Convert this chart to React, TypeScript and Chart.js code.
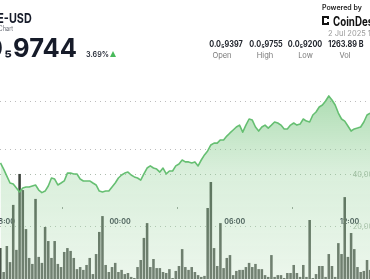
import React, { useEffect, useRef } from 'react';
import { Chart, registerables } from 'chart.js';

Chart.register(...registerables);

// ---------- data ----------
const PAIR = 'PEPE-USD';
const SUBTITLE = 'Price Chart';
const LAST_PRICE = '0.0₅9744';
const CHANGE = '3.69%';
const DATE_TEXT = '2 Jul 2025 15:40 UTC';
const STAT_VALUES = ['0.0₅9397', '0.0₅9755', '0.0₅9200', '1263.89 B'];
const STAT_LABELS = ['Open', 'High', 'Low', 'Vol'];

// 10‑minute buckets, minutes relative to 00:00 (2 Jul)
const START_MIN = -375;
const STEP_MIN = 10;

// price in units of 1e-9 USD (0.0₅9744 -> 9744)
const PRICE = [
  9370, 9335, 9295, 9255, 9250, 9227, 9204, 9227, 9232, 9232,
  9238, 9244, 9215, 9200, 9209, 9238, 9284, 9278, 9244, 9255,
  9267, 9312, 9312, 9307, 9307, 9278, 9267, 9267, 9267, 9255,
  9244, 9209, 9204, 9209, 9209, 9232, 9255, 9284, 9301, 9312,
  9318, 9301, 9290, 9284, 9272, 9307, 9341, 9353, 9341, 9335,
  9318, 9341, 9307, 9324, 9324, 9353, 9364, 9387, 9376, 9376,
  9370, 9376, 9353, 9387, 9416, 9439, 9473, 9484, 9484, 9502,
  9502, 9524, 9542, 9559, 9576, 9587, 9547, 9587, 9622, 9616,
  9576, 9553, 9576, 9587, 9570, 9587, 9605, 9599, 9587, 9565,
  9565, 9587, 9599, 9587, 9593, 9622, 9610, 9605, 9645, 9662,
  9691, 9702, 9725, 9754, 9731, 9702, 9656, 9622, 9610, 9582,
  9553, 9565, 9570, 9576, 9605, 9645, 9656,
];

const VOLUME = [
  11900, 2700, 12700, 6500, 28500, 11200, 40400, 34200, 19200, 8100,
  5800, 30800, 8500, 6200, 20000, 14600, 8100, 14600, 5800, 4600,
  10400, 11900, 10800, 8100, 3800, 4600, 3500, 5400, 8100, 1900,
  9600, 18100, 24200, 5400, 2700, 4600, 6200, 2700, 3500,
  1900, 2300, 800, 400, 4600, 7300, 15800, 21500, 4600, 7700,
  4200, 4200, 2700, 2300, 3800, 400, 3100, 5000, 11500, 4600,
  3500, 4600, 2700, 1500, 800, 1200, 27300, 37300, 11900, 5000,
  21500, 4200, 8100, 9200, 1500, 3100, 3500, 3500,
  4600, 6200, 4600, 5800, 3800, 3800, 1500, 800, 9200, 800,
  1500, 1500, 400, 2300, 2300, 5400, 2300, 800, 5400, 800,
  22700, 400, 1900, 5000, 5000, 800, 9600, 5000, 800, 13800,
  9600, 31500, 8500, 17700, 11500, 4600, 2700, 3100, 7300, 3500,
];

const TIME_TICKS = [-360, 0, 360, 720];
const TIME_LABELS = ['18:00', '00:00', '06:00', '12:00'];
const PRICE_GRID = [9450, 9725];
const VOL_TICKS = [20000, 40000];

// ---------- layout constants ----------
const CHART_W = 380;
const CHART_H = 280;
const ORIGIN_PX = 120; // pixel of 00:00
const PX_PER_MIN = 0.31875;
const X_MIN = -ORIGIN_PX / PX_PER_MIN;
const X_MAX = (CHART_W - ORIGIN_PX) / PX_PER_MIN;
const PRICE_MIN = 8705;
const PRICE_MAX = 10304;
const VOL_MAX = 107300;
const TIME_AXIS_AT = 27700;

const FONT = 'Inter, "Noto Sans", "DejaVu Sans", sans-serif';
const DARK = '#161b29';

function withSub(text: string, subStyle: React.CSSProperties) {
  const parts = text.split('₅');
  if (parts.length < 2) return text;
  return (
    <>
      {parts[0]}
      <span style={subStyle}>₅</span>
      {parts[1]}
    </>
  );
}

export default function App() {
  const ref = useRef<HTMLCanvasElement>(null);

  useEffect(() => {
    const canvas = ref.current;
    if (!canvas) return;
    const times = VOLUME.map((_, i) => START_MIN + i * STEP_MIN);

    const chart = new Chart(canvas, {
      type: 'bar',
      data: {
        datasets: [
          {
            type: 'line',
            label: 'Price',
            data: times.map((t, i) => ({ x: t, y: PRICE[i] })),
            yAxisID: 'price',
            order: 0,
            borderColor: '#66bf72',
            borderWidth: 1.6,
            borderJoinStyle: 'round',
            pointRadius: 0,
            tension: 0,
            fill: 'start',
            backgroundColor: (ctx: any) => {
              const c = ctx.chart;
              const area = c.chartArea;
              if (!area) return 'rgba(150,210,155,0.35)';
              const g = c.ctx.createLinearGradient(0, 95, 0, area.bottom);
              g.addColorStop(0, 'rgba(90,185,100,0.5)');
              g.addColorStop(0.43, 'rgba(150,210,155,0.35)');
              g.addColorStop(1, 'rgba(205,232,205,0.38)');
              return g;
            },
          } as any,
          {
            type: 'bar',
            label: 'Volume',
            data: times.map((t, i) => ({ x: t, y: VOLUME[i] })),
            yAxisID: 'vol',
            order: 1,
            backgroundColor: '#3c433c',
            barPercentage: 0.8,
            categoryPercentage: 1,
          } as any,
        ],
      },
      options: {
        responsive: false,
        animation: false,
        layout: { padding: { left: 0, right: 0, top: 0, bottom: 1 } },
        plugins: {
          legend: { display: false },
          tooltip: { enabled: false },
          title: { display: false },
        },
        scales: {
          x: {
            type: 'linear',
            min: X_MIN,
            max: X_MAX,
            offset: false,
            position: { vol: TIME_AXIS_AT } as any,
            afterBuildTicks: (s: any) => {
              s.ticks = TIME_TICKS.map((v) => ({ value: v }));
            },
            afterFit: (s: any) => {
              s.paddingLeft = 0;
              s.paddingRight = 0;
            },
            grid: {
              drawOnChartArea: false,
              drawTicks: true,
              tickLength: 2,
              color: '#8d958d',
            },
            border: { display: false },
            ticks: {
              autoSkip: false,
              maxRotation: 0,
              padding: 8.5,
              color: '#1b2230',
              font: { family: FONT, size: 7, weight: 'bold' },
              callback: (v: any) => {
                const k = TIME_TICKS.indexOf(Number(v));
                return k >= 0 ? TIME_LABELS[k] : '';
              },
            },
          } as any,
          price: {
            type: 'linear',
            axis: 'y',
            position: 'left',
            min: PRICE_MIN,
            max: PRICE_MAX,
            afterBuildTicks: (s: any) => {
              s.ticks = PRICE_GRID.map((v) => ({ value: v }));
            },
            afterFit: (s: any) => {
              s.width = 0;
              s.paddingTop = 0;
              s.paddingBottom = 0;
            },
            ticks: { display: false },
            grid: { drawTicks: false, color: '#bdbdbd', lineWidth: 1 },
            border: { display: false, dash: [1, 4] },
          } as any,
          vol: {
            type: 'linear',
            axis: 'y',
            position: 'right',
            min: 0,
            max: VOL_MAX,
            afterBuildTicks: (s: any) => {
              s.ticks = VOL_TICKS.map((v) => ({ value: v }));
            },
            afterFit: (s: any) => {
              s.width = 0;
              s.paddingTop = 0;
              s.paddingBottom = 0;
            },
            grid: { drawTicks: false, color: 'rgba(140,160,140,0.7)', lineWidth: 1 },
            border: { display: false, dash: [1, 4] },
            ticks: {
              mirror: true,
              padding: -2,
              color: '#a2b3a2',
              font: { family: FONT, size: 7.5 },
              callback: (v: any) => Number(v).toLocaleString('en-US'),
            },
          } as any,
        },
      },
    });
    return () => chart.destroy();
  }, []);

  const statCenters = [226, 266, 305, 346];
  const labelCenters = [222, 265, 305.5, 345];

  return (
    <div
      style={{
        position: 'fixed',
        left: 0,
        top: 0,
        width: 370,
        height: 280,
        overflow: 'hidden',
        background: '#fff',
        fontFamily: FONT,
      }}
    >
      <canvas
        ref={ref}
        width={CHART_W}
        height={CHART_H}
        style={{ position: 'absolute', left: 0, top: 0, width: CHART_W, height: CHART_H }}
      />
      {/* left header */}
      <div style={{ position: 'absolute', right: 338, top: 11, fontSize: 13.5, fontWeight: 700, lineHeight: '14px', whiteSpace: 'nowrap', color: DARK, transform: 'scaleX(0.8)', transformOrigin: 'right center' }}>
        {PAIR}
      </div>
      <div style={{ position: 'absolute', right: 356.5, top: 24.5, fontSize: 7, lineHeight: '8px', whiteSpace: 'nowrap', color: '#6b6f78', transform: 'scaleX(0.8)', transformOrigin: 'right center' }}>
        {SUBTITLE}
      </div>
      <div style={{ position: 'absolute', right: 293, top: 35, fontSize: 25.5, fontWeight: 700, lineHeight: '26px', whiteSpace: 'nowrap', color: DARK }}>
        {withSub(LAST_PRICE, { fontSize: 17, position: 'relative', top: -2.5, margin: '0 1px' })}
      </div>
      <div style={{ position: 'absolute', left: 86, top: 50, fontSize: 8, fontWeight: 600, lineHeight: '8px', whiteSpace: 'nowrap', color: '#2a2f3a', transform: 'scaleX(0.9)', transformOrigin: 'left center' }}>
        {CHANGE}
      </div>
      <div style={{ position: 'absolute', left: 110, top: 51, width: 0, height: 0, borderLeft: '3.5px solid transparent', borderRight: '3.5px solid transparent', borderBottom: '6px solid #48b95a' }} />
      {/* right header */}
      <div style={{ position: 'absolute', left: 322, top: 4, fontSize: 7, fontWeight: 600, lineHeight: '8px', whiteSpace: 'nowrap', color: '#1b1b1b' }}>
        Powered by
      </div>
      <div style={{ position: 'absolute', left: 322, top: 16, width: 5, height: 5, borderLeft: '2px solid #111', borderTop: '2px solid #111', borderBottom: '2px solid #111' }} />
      <div style={{ position: 'absolute', left: 327, top: 22, width: 2, height: 2, background: '#111' }} />
      <div style={{ position: 'absolute', left: 327, top: 17, width: 2, height: 2, background: '#111' }} />
      <div style={{ position: 'absolute', left: 333, top: 14.5, fontSize: 12.5, fontWeight: 700, lineHeight: '13px', whiteSpace: 'nowrap', color: '#111', transform: 'scaleX(0.78)', transformOrigin: 'left center' }}>
        CoinDesk
      </div>
      <div style={{ position: 'absolute', left: 328, top: 30, fontSize: 7.5, lineHeight: '8px', whiteSpace: 'nowrap', color: '#9a9a9a' }}>
        {DATE_TEXT}
      </div>
      {STAT_VALUES.map((v, i) => (
        <div key={'v' + i} style={{ position: 'absolute', left: statCenters[i] - 25, width: 50, top: 40, textAlign: 'center', fontSize: 8.5, fontWeight: 700, lineHeight: '9px', whiteSpace: 'nowrap', color: '#22262e', transform: 'scaleX(0.86)', transformOrigin: 'center center' }}>
          {withSub(v, { fontSize: 8.5 })}
        </div>
      ))}
      {STAT_LABELS.map((l, i) => (
        <div key={'l' + i} style={{ position: 'absolute', left: labelCenters[i] - 25, width: 50, top: 51.5, textAlign: 'center', fontSize: 7.5, lineHeight: '8px', whiteSpace: 'nowrap', color: '#777' }}>
          {l}
        </div>
      ))}
    </div>
  );
}
